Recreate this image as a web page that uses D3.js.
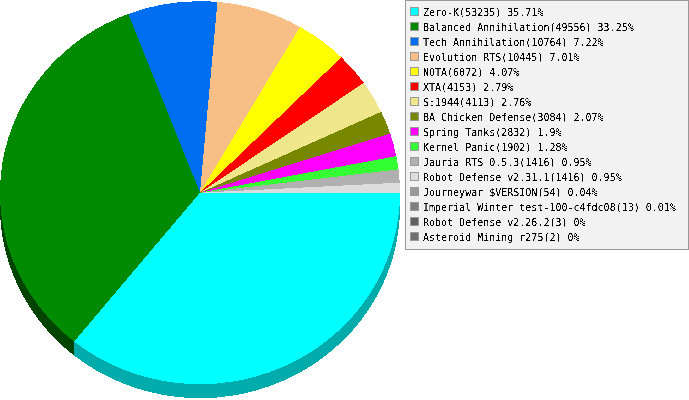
<!DOCTYPE html>
<html><head><meta charset="utf-8">
<script src="https://cdn.jsdelivr.net/npm/d3@7"></script>
<style>html,body{margin:0;padding:0;background:#fff;overflow:hidden}svg{display:block}</style>
</head><body><svg id="c" width="689" height="400">
<defs><filter id="alias" x="0" y="0" width="100%" height="100%" color-interpolation-filters="sRGB"><feComponentTransfer><feFuncA type="linear" slope="6" intercept="-2.3"/></feComponentTransfer></filter></defs>
</svg>
<script>
const names=["Zero-K","Balanced Annihilation","Tech Annihilation","Evolution RTS","NOTA","XTA","S:1944","BA Chicken Defense","Spring Tanks","Kernel Panic","Jauria RTS 0.5.3","Robot Defense v2.31.1","Journeywar $VERSION","Imperial Winter test-100-c4fdc08","Robot Defense v2.26.2","Asteroid Mining r275"];
const values=[53235,49556,10764,10445,6072,4153,4113,3084,2832,1902,1416,1416,54,13,3,2];
const percents=["35.71","33.25","7.22","7.01","4.07","2.79","2.76","2.07","1.9","1.28","0.95","0.95","0.04","0.01","0","0"];
const colors=["#00ffff","#008a00","#006ef0","#f7bf85","#ffff00","#ff0000","#f0e68c","#778800","#ff00ff","#33ff33","#b0b0b0","#dddddd","#999999","#808080","#606060","#707070"];
const cx=200,cy=192.7,rx=200,ry=191.5,depth=14;
const svg=d3.select("#c");
const deg=Math.PI/180, a0=Math.PI/2;
// The original renderer steps slice ends up to whole degrees
const pie=d3.pie().sort(null).startAngle(a0).endAngle(a0+2*Math.PI)(values).map(d=>({...d,
  startAngle:a0+Math.ceil((d.startAngle-a0)/deg-1e-6)*deg,
  endAngle:a0+Math.ceil((d.endAngle-a0)/deg-1e-6)*deg}));
const arc=d3.arc().innerRadius(0).outerRadius(rx);
const g=svg.append("g").attr("shape-rendering","crispEdges");
const dark=c=>{const k=d3.rgb(c);return d3.rgb(k.r*0.67,k.g*0.67,k.b*0.67).formatHex()};
d3.range(depth,0,-1).forEach(o=>{
  g.append("g").attr("transform",`translate(${cx},${cy+o}) scale(1,${ry/rx})`)
   .selectAll("path").data(pie).join("path").attr("d",arc).attr("fill",(d,i)=>i==1?"#004400":dark(colors[i]));
});
g.append("g").attr("transform",`translate(${cx},${cy}) scale(1,${ry/rx})`)
 .selectAll("path").data(pie).join("path").attr("d",arc).attr("fill",(d,i)=>colors[i]);
svg.append("rect").attr("x",405.5).attr("y",0.5).attr("width",283).attr("height",249).attr("fill","#f2f2f2").attr("stroke","#999").attr("shape-rendering","crispEdges");
const y=d3.scaleBand().domain(d3.range(names.length)).range([4,244]);
const row=svg.selectAll("g.r").data(names).join("g").attr("class","r").attr("transform",(d,i)=>`translate(0,${y(i)})`);
row.append("rect").attr("x",410.5).attr("y",3.5).attr("width",8).attr("height",8).attr("fill",(d,i)=>colors[i]).attr("stroke","#999").attr("shape-rendering","crispEdges");
row.append("text").attr("x",423).attr("y",12).attr("font-family","DejaVu Sans Mono").attr("font-size","10px").attr("fill","#000").attr("filter","url(#alias)").text((d,i)=>`${d}(${values[i]}) ${percents[i]}%`);
</script></body></html>
